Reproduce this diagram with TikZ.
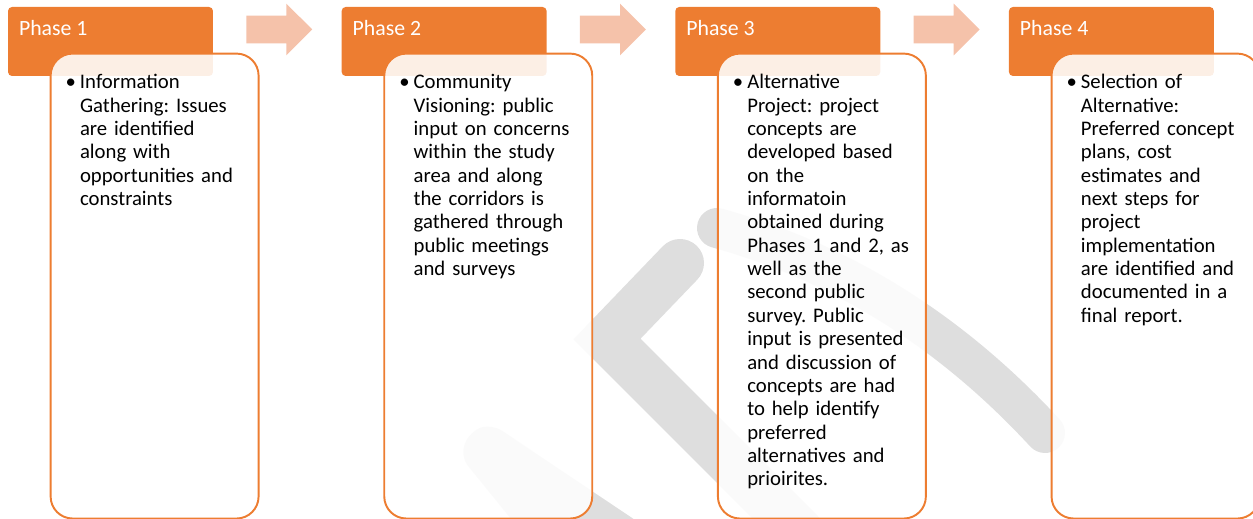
\documentclass[tikz,border=0pt]{standalone}
\usepackage{fontspec}
\setmainfont{Carlito}
\usepackage{xcolor}
\usepackage{tikz}
\usetikzlibrary{positioning,calc,shapes.arrows}
\definecolor{PhaseOrange}{HTML}{ED7D31}
\definecolor{ArrowPeach}{HTML}{F5C2AA}
\definecolor{MarkGrey}{HTML}{DEDEDE}
\frenchspacing
\tikzset{
    phasehead/.style={rectangle, rounded corners=0.08cm, fill=PhaseOrange, minimum width=4.1cm, minimum height=1.38cm, inner sep=0pt},
    phaselabel/.style={text=white, font=\fontsize{12.4}{14}\selectfont, inner sep=0pt, anchor=base west},
    phasebox/.style={rectangle, rounded corners=0.44cm, draw=PhaseOrange, line width=1.1pt, fill=white, fill opacity=0.88, minimum width=4.16cm, minimum height=9.3cm, inner sep=0pt},
    phasetext/.style={text=black, font=\fontsize{11.8}{13.3}\selectfont, text width=3.6cm, align=left, inner sep=0pt, anchor=base west},
    steparrow/.style={single arrow, fill=ArrowPeach, minimum height=1.32cm, inner xsep=0pt, inner ysep=0.27cm, single arrow head extend=0.24cm},
    markline/.style={draw=MarkGrey, line cap=round}
}

\begin{document}
\begin{tikzpicture}[x=0.02cm, y=-0.02cm]
    \useasboundingbox (0,0) rectangle (1253,519);

    % faint grey mark behind everything
    \draw[markline, line width=0.96cm, line join=miter] (680,263) -- (607,339) -- (800,532);
    \fill[MarkGrey, rounded corners=0.24cm] (470,431) -- (492,424) -- (650,530) -- (520,530) -- (460,456) -- cycle;
    \draw[markline, line width=0.8cm] (717,228) .. controls (840,262) and (950,330) .. (1045,433);

    % phase headers
    \node[phasehead] (head1) at (110.5,41.5) {};
    \node[phasehead, right=2.56cm of head1] (head2) {};
    \node[phasehead, right=2.56cm of head2] (head3) {};
    \node[phasehead, right=2.56cm of head3] (head4) {};

    \node[phaselabel] (lab1) at ($(head1.north west)+(11,29)$) {Phase 1};
    \node[phaselabel] (lab2) at ($(head2.north west)+(11,29)$) {Phase 2};
    \node[phaselabel] (lab3) at ($(head3.north west)+(11,29)$) {Phase 3};
    \node[phaselabel] (lab4) at ($(head4.north west)+(11,29)$) {Phase 4};

    % arrows between the headers
    \node[steparrow] (arr12) at ($(head1.east)!0.5!(head2.west)+(-5,-12)$) {};
    \node[steparrow] (arr23) at ($(head2.east)!0.5!(head3.west)+(-5,-12)$) {};
    \node[steparrow] (arr34) at ($(head3.east)!0.5!(head4.west)+(-5,-12)$) {};

    % description boxes, slightly see-through
    \node[phasebox, below right=0.92cm and 0.84cm of head1.north west] (box1) {};
    \node[phasebox, below right=0.92cm and 0.84cm of head2.north west] (box2) {};
    \node[phasebox, below right=0.92cm and 0.84cm of head3.north west] (box3) {};
    \node[phasebox, below right=0.92cm and 0.84cm of head4.north west] (box4) {};

    \node[phasetext] (txt1) at ($(box1.north west)+(30,36)$) {\llap{\textbullet\hspace{0.08cm}}Information\\
        Gathering: Issues\\are identified\\along with\\opportunities and\\constraints};
    \node[phasetext] (txt2) at ($(box2.north west)+(30,36)$) {\llap{\textbullet\hspace{0.08cm}}Community\\
        Visioning: public\\input on concerns\\within the study\\area and along\\the corridors is\\
        gathered through\\public meetings\\and surveys};
    \node[phasetext] (txt3) at ($(box3.north west)+(30,36)$) {\llap{\textbullet\hspace{0.08cm}}Alternative\\
        Project: project\\concepts are\\developed based\\on the\\informatoin\\obtained during\\
        Phases 1 and 2, as\\well as the\\second public\\survey. Public\\input is presented\\
        and discussion of\\concepts are had\\to help identify\\preferred\\alternatives and\\prioirites.};
    \node[phasetext] (txt4) at ($(box4.north west)+(30,36)$) {\llap{\textbullet\hspace{0.08cm}}Selection of\\
        Alternative:\\Preferred concept\\plans, cost\\estimates and\\next steps for\\project\\
        implementation\\are identified and\\documented in a\\final report.};
\end{tikzpicture}
\end{document}
